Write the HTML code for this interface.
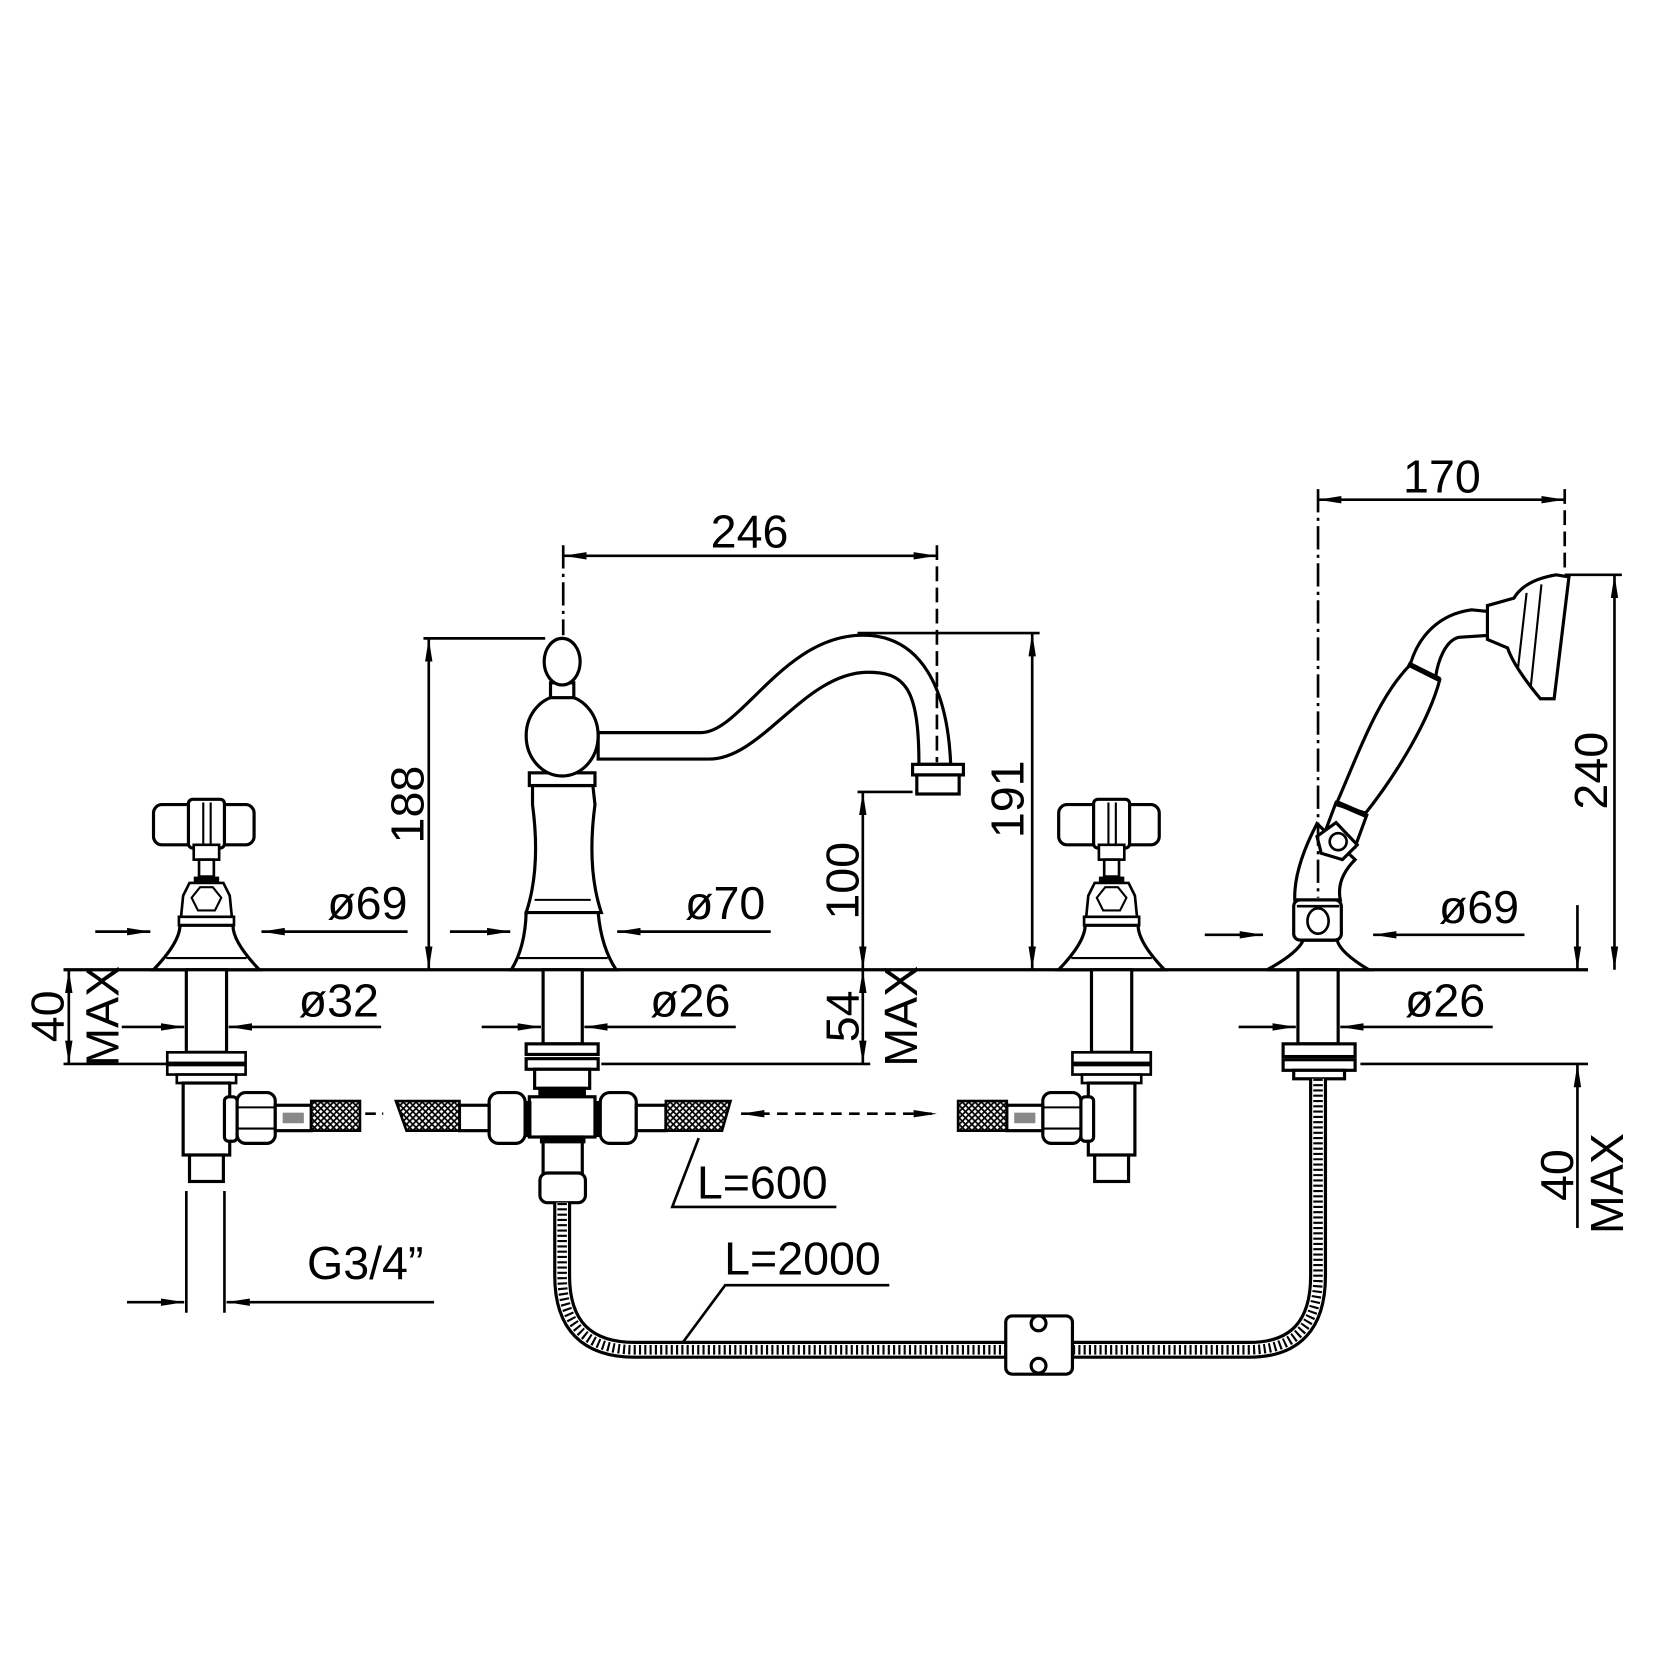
<!DOCTYPE html>
<html><head><meta charset="utf-8"><style>
html,body{margin:0;padding:0;background:#fff}
svg{display:block}
text{font-family:"Liberation Sans Narrow","Liberation Sans",sans-serif;font-size:44px;fill:#000}
</style></head><body>
<svg width="1660" height="1660" viewBox="0 0 1568 1568" xmlns="http://www.w3.org/2000/svg">
<defs>
<marker id="a" viewBox="0 0 22 8" refX="22" refY="4" markerWidth="22" markerHeight="8" markerUnits="userSpaceOnUse" orient="auto-start-reverse"><path d="M0,0.5 L22,4 L0,7.5z" fill="#000"/></marker>
<pattern id="mesh" width="6" height="6" patternUnits="userSpaceOnUse"><rect width="6" height="6" fill="#fff"/><path d="M0,0L6,6M6,0L0,6" stroke="#000" stroke-width="1.6"/></pattern>
<g id="valve">
 <rect x="-50" y="760" width="95" height="38" rx="8" fill="#fff" stroke="#000" stroke-width="3"/>
 <rect x="-17" y="755" width="34" height="46" rx="4" fill="#fff" stroke="#000" stroke-width="3"/>
 <line x1="-3" y1="758" x2="-3" y2="798" stroke="#000" stroke-width="2"/><line x1="4" y1="758" x2="4" y2="798" stroke="#000" stroke-width="2"/>
 <rect x="-12" y="798" width="24" height="14" fill="#fff" stroke="#000" stroke-width="2.5"/>
 <rect x="-7" y="812" width="14" height="16" fill="#fff" stroke="#000" stroke-width="2.5"/>
 <rect x="-12" y="828" width="24" height="6" fill="#000"/>
 <path d="M-16,834 L16,834 L22,846 L24,866 L-24,866 L-22,846z" fill="#fff" stroke="#000" stroke-width="2.5"/>
 <path d="M-14,848 L-6,838 L6,838 L14,848 L8,860 L-8,860z" fill="none" stroke="#000" stroke-width="2"/>
 <rect x="-26" y="866" width="52" height="8" fill="#fff" stroke="#000" stroke-width="2.5"/>
 <path d="M-25,874 Q-25,890 -50,916 L50,916 Q25,890 25,874z" fill="#fff" stroke="#000" stroke-width="3"/>
 <line x1="-38" y1="905" x2="38" y2="905" stroke="#000" stroke-width="2"/>
 <rect x="-19" y="916" width="38" height="78" fill="#fff" stroke="#000" stroke-width="3"/>
 <rect x="-37" y="994" width="74" height="10" fill="#fff" stroke="#000" stroke-width="2.5"/>
 <rect x="-37" y="1006" width="74" height="9" fill="#fff" stroke="#000" stroke-width="2.5"/>
 <rect x="-28" y="1015" width="56" height="8" fill="#fff" stroke="#000" stroke-width="2.5"/>
 <rect x="-22" y="1023" width="44" height="68" fill="#fff" stroke="#000" stroke-width="3"/>
 <rect x="-16" y="1091" width="32" height="25" fill="#fff" stroke="#000" stroke-width="3"/>
</g>
<g id="conn">
 <rect x="0" y="1036" width="12" height="42" rx="4" fill="#fff" stroke="#000" stroke-width="3"/>
 <rect x="12" y="1032" width="36" height="48" rx="8" fill="#fff" stroke="#000" stroke-width="3"/>
 <line x1="12" y1="1046" x2="48" y2="1046" stroke="#000" stroke-width="2"/><line x1="12" y1="1066" x2="48" y2="1066" stroke="#000" stroke-width="2"/>
 <rect x="48" y="1044" width="34" height="24" fill="#fff" stroke="#000" stroke-width="3"/>
 <rect x="55" y="1051" width="20" height="10" fill="#888"/>
</g>
</defs>

<line x1="60" y1="916" x2="1500" y2="916" stroke="#000" stroke-width="3"/>

<use href="#valve" transform="translate(195,0)"/>
<use href="#conn" transform="translate(212,0)"/>
<rect x="294" y="1040" width="46" height="28" fill="url(#mesh)" stroke="#000" stroke-width="2.5"/>
<line x1="345" y1="1052" x2="362" y2="1052" stroke="#000" stroke-width="2.5" stroke-dasharray="10,6"/>
<use href="#valve" transform="translate(1050,0)"/>
<use href="#conn" transform="translate(1033,0) scale(-1,1)"/>
<rect x="905" y="1040" width="46" height="28" fill="url(#mesh)" stroke="#000" stroke-width="2.5"/>

<g fill="#fff" stroke="#000" stroke-width="3">
 <path d="M565,692 L662,692 C700,692 740,600 815,600 C870,600 895,650 898,722 L868,722 C868,650 855,635 820,635 C760,635 720,717 670,717 L565,717z"/>
 <rect x="862" y="722" width="48" height="10"/>
 <rect x="866" y="732" width="40" height="18"/>
 <path d="M503,742 L560,742 L562,760 Q554,820 568,862 L497,862 Q511,820 503,760z"/>
 <rect x="500" y="730" width="62" height="12"/>
 <ellipse cx="531" cy="695" rx="34" ry="38"/>
 <rect x="520" y="645" width="22" height="14"/>
 <ellipse cx="531" cy="625" rx="17" ry="22"/>
 <path d="M497,862 L565,862 Q568,895 582,916 L483,916 Q496,895 497,862z"/>
</g>
<line x1="505" y1="850" x2="558" y2="850" stroke="#000" stroke-width="2"/>
<line x1="490" y1="905" x2="574" y2="905" stroke="#000" stroke-width="2"/>
<g fill="#fff" stroke="#000" stroke-width="3">
 <rect x="513" y="916" width="37" height="70"/>
 <rect x="497" y="986" width="68" height="10"/>
 <rect x="497" y="1000" width="68" height="10"/>
 <rect x="505" y="1010" width="52" height="18"/>
 <rect x="510" y="1028" width="42" height="8" fill="#000"/>
 <rect x="500" y="1036" width="62" height="38"/>
 <rect x="513" y="1074" width="37" height="36"/>
 <rect x="510" y="1108" width="43" height="28" rx="7"/>
 <rect x="462" y="1032" width="34" height="48" rx="9"/>
 <rect x="567" y="1032" width="34" height="48" rx="9"/>
 <rect x="434" y="1044" width="28" height="24"/>
 <rect x="601" y="1044" width="28" height="24"/>
</g>
<rect x="496" y="1040" width="6" height="34" fill="#000"/><rect x="561" y="1040" width="6" height="34" fill="#000"/>
<rect x="510" y="1074" width="43" height="6" fill="#000"/>
<path d="M374,1040 L434,1040 L434,1068 L384,1068z" fill="url(#mesh)" stroke="#000" stroke-width="2.5"/>
<path d="M629,1040 L690,1040 L682,1068 L629,1068z" fill="url(#mesh)" stroke="#000" stroke-width="2.5"/>
<line x1="700" y1="1052" x2="885" y2="1052" stroke="#000" stroke-width="2.5" stroke-dasharray="10,7" marker-start="url(#a)" marker-end="url(#a)"/>

<!-- hand shower -->
<g fill="#fff" stroke="#000" stroke-width="3">
 <path d="M1231,888 Q1226,900 1197,916 L1293,916 Q1266,900 1263,888z"/>
 <rect x="1222" y="850" width="45" height="38" rx="6"/>
 <path d="M1223,850 Q1222,820 1244,778 L1280,812 Q1262,830 1266,850z"/>
 <path d="M1262,758 L1291,770 L1280,800 L1250,790z"/>
 <path d="M1262,760 C1280,720 1300,660 1332,628 L1360,642 C1350,680 1320,730 1290,768z"/>
 <path d="M1332,628 C1340,600 1360,580 1390,576 L1410,578 L1408,600 L1378,602 C1365,605 1358,625 1356,640z"/>
 <path d="M1405,572 L1430,565 Q1440,548 1470,543 L1482,545 L1468,660 L1455,660 Q1430,630 1424,612 L1405,604z"/>
 <polygon points="1244,790 1262,777 1282,798 1268,812 1248,806"/>
</g>
<path d="M1442,560 L1434,630 M1456,552 L1446,648" stroke="#000" stroke-width="2" fill="none"/>
<circle cx="1264" cy="795" r="8" fill="none" stroke="#000" stroke-width="2.5"/>
<path d="M1330,627 L1360,642 M1262,758 L1290,770" stroke="#000" stroke-width="5"/>
<ellipse cx="1245" cy="870" rx="10" ry="12" fill="none" stroke="#000" stroke-width="2.5"/>
<line x1="1225" y1="856" x2="1265" y2="856" stroke="#000" stroke-width="2.5"/>
<g fill="#fff" stroke="#000" stroke-width="3">
 <rect x="1226" y="916" width="38" height="70"/>
 <rect x="1212" y="986" width="68" height="12"/>
 <rect x="1212" y="1001" width="68" height="10"/>
 <rect x="1222" y="1011" width="48" height="8"/>
</g>
<path d="M1245,1019 L1245,1205 Q1245,1275 1180,1275 L600,1275 Q531,1275 531,1205 L531,1136" fill="none" stroke="#000" stroke-width="17"/>
<path d="M1245,1019 L1245,1205 Q1245,1275 1180,1275 L600,1275 Q531,1275 531,1205 L531,1136" fill="none" stroke="#fff" stroke-width="11"/>
<path d="M1245,1019 L1245,1205 Q1245,1275 1180,1275 L600,1275 Q531,1275 531,1205 L531,1136" fill="none" stroke="#000" stroke-width="9" stroke-dasharray="2,3"/>
<rect x="950" y="1243" width="63" height="55" rx="6" fill="#fff" stroke="#000" stroke-width="3"/>
<circle cx="981" cy="1250" r="7" fill="#fff" stroke="#000" stroke-width="3"/>
<circle cx="981" cy="1290" r="7" fill="#fff" stroke="#000" stroke-width="3"/>

<g stroke="#000" stroke-width="2.5" fill="none">
 <line x1="532" y1="525" x2="885" y2="525" marker-start="url(#a)" marker-end="url(#a)"/>
 <line x1="532" y1="515" x2="532" y2="600" stroke-dasharray="22,5,3,5"/>
 <line x1="885" y1="515" x2="885" y2="720" stroke-dasharray="14,6"/>
 <line x1="1245" y1="472" x2="1478" y2="472" marker-start="url(#a)" marker-end="url(#a)"/>
 <line x1="1245" y1="462" x2="1245" y2="848" stroke-dasharray="22,5,3,5"/>
 <line x1="1478" y1="462" x2="1478" y2="540" stroke-dasharray="14,6"/>
 <line x1="400" y1="603" x2="515" y2="603"/>
 <line x1="405" y1="603" x2="405" y2="916" marker-start="url(#a)" marker-end="url(#a)"/>
 <line x1="810" y1="598" x2="982" y2="598"/>
 <line x1="975" y1="598" x2="975" y2="916" marker-start="url(#a)" marker-end="url(#a)"/>
 <line x1="810" y1="748" x2="862" y2="748"/>
 <line x1="815" y1="748" x2="815" y2="916" marker-start="url(#a)" marker-end="url(#a)"/>
 <line x1="815" y1="916" x2="815" y2="1005" marker-start="url(#a)" marker-end="url(#a)"/>
 <line x1="568" y1="1005" x2="822" y2="1005"/>
 <line x1="1478" y1="543" x2="1532" y2="543"/>
 <line x1="1525" y1="543" x2="1525" y2="916" marker-start="url(#a)" marker-end="url(#a)"/>
 <line x1="60" y1="1005" x2="160" y2="1005"/>
 <line x1="65" y1="916" x2="65" y2="1005" marker-start="url(#a)" marker-end="url(#a)"/>
 <line x1="1285" y1="1005" x2="1500" y2="1005"/>
 <line x1="1490" y1="855" x2="1490" y2="916" marker-end="url(#a)"/>
 <line x1="1490" y1="1160" x2="1490" y2="1005" marker-end="url(#a)"/>
 <line x1="90" y1="880" x2="142" y2="880" marker-end="url(#a)"/><line x1="385" y1="880" x2="247" y2="880" marker-end="url(#a)"/>
 <line x1="425" y1="880" x2="482" y2="880" marker-end="url(#a)"/><line x1="728" y1="880" x2="583" y2="880" marker-end="url(#a)"/>
 <line x1="1138" y1="883" x2="1193" y2="883" marker-end="url(#a)"/><line x1="1440" y1="883" x2="1297" y2="883" marker-end="url(#a)"/>
 <line x1="115" y1="970" x2="174" y2="970" marker-end="url(#a)"/><line x1="360" y1="970" x2="216" y2="970" marker-end="url(#a)"/>
 <line x1="455" y1="970" x2="511" y2="970" marker-end="url(#a)"/><line x1="695" y1="970" x2="552" y2="970" marker-end="url(#a)"/>
 <line x1="1170" y1="970" x2="1224" y2="970" marker-end="url(#a)"/><line x1="1410" y1="970" x2="1266" y2="970" marker-end="url(#a)"/>
 <line x1="176" y1="1125" x2="176" y2="1240"/><line x1="212" y1="1125" x2="212" y2="1240"/>
 <line x1="120" y1="1230" x2="174" y2="1230" marker-end="url(#a)"/><line x1="410" y1="1230" x2="214" y2="1230" marker-end="url(#a)"/>
 <polyline points="660,1075 635,1140 790,1140"/>
 <polyline points="645,1268 685,1214 840,1214"/>
</g>

<text x="708" y="517" text-anchor="middle">246</text>
<text x="1362" y="465" text-anchor="middle">170</text>
<text x="347" y="868" text-anchor="middle">ø69</text>
<text x="685" y="868" text-anchor="middle">ø70</text>
<text x="1397" y="872" text-anchor="middle">ø69</text>
<text x="320" y="960" text-anchor="middle">ø32</text>
<text x="652" y="960" text-anchor="middle">ø26</text>
<text x="1365" y="960" text-anchor="middle">ø26</text>
<text x="345" y="1208" text-anchor="middle">G3/4”</text>
<text x="720" y="1132" text-anchor="middle">L=600</text>
<text x="758" y="1204" text-anchor="middle">L=2000</text>
<text transform="translate(400,760) rotate(-90)" text-anchor="middle">188</text>
<text transform="translate(967,755) rotate(-90)" text-anchor="middle">191</text>
<text transform="translate(811,832) rotate(-90)" text-anchor="middle">100</text>
<text transform="translate(1518,728) rotate(-90)" text-anchor="middle">240</text>
<text transform="translate(811,960) rotate(-90)" text-anchor="middle">54</text>
<text transform="translate(866,960) rotate(-90)" text-anchor="middle">MAX</text>
<text transform="translate(60,960) rotate(-90)" text-anchor="middle">40</text>
<text transform="translate(112,960) rotate(-90)" text-anchor="middle">MAX</text>
<text transform="translate(1486,1110) rotate(-90)" text-anchor="middle">40</text>
<text transform="translate(1533,1118) rotate(-90)" text-anchor="middle">MAX</text>
</svg>
</body></html>
